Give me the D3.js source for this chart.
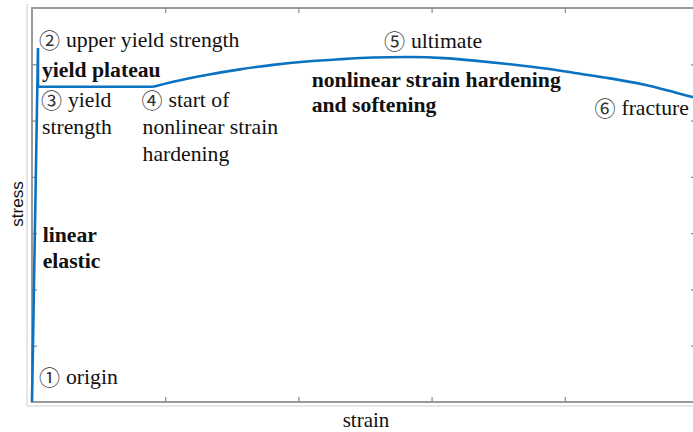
<!DOCTYPE html>
<html>
<head>
<meta charset="utf-8">
<script src="https://cdn.jsdelivr.net/npm/d3@7/dist/d3.min.js"></script>
<style>
  html, body { margin: 0; padding: 0; background: #fff; }
  svg { display: block; }
</style>
</head>
<body>
<svg id="chart" width="693" height="432"></svg>
<script>
// Schematic stress-strain curve (arbitrary units)
// Elastic rise, upper yield point, drop to the yield plateau
const elasticStrain = [0, 0.045, 0.045, 0.91];
const elasticStress = [0, 6.29, 5.60, 5.60];

// Nonlinear strain hardening and softening up to fracture
const hardeningStrain = [0.91, 1.06, 1.31, 1.56, 1.81, 2.06, 2.31, 2.56, 2.84, 3.09, 3.34, 3.59, 3.84, 4.09, 4.34, 4.59, 4.96, 5.0];
const hardeningStress = [5.60, 5.69, 5.81, 5.91, 5.99, 6.05, 6.09, 6.12, 6.13, 6.11, 6.06, 6.00, 5.93, 5.84, 5.75, 5.64, 5.42, 5.40];

// Tick positions (unlabelled)
const xTickValues = [1, 2, 3, 4];
const yTickValues = [1, 2, 3, 4, 5, 6];

// Annotation marker, text lines and anchor (strain, stress) of the first line
const labelMarker = ["\u2461", "", "\u2462", "\u2463", "\u2464", "", "\u2465", "", "\u2460"];
const labelText = [
  ["upper yield strength"],
  ["yield plateau"],
  ["yield", "strength"],
  ["start of", "nonlinear strain", "hardening"],
  ["ultimate"],
  ["nonlinear strain hardening", "and softening"],
  ["fracture"],
  ["linear", "elastic"],
  ["origin"]
];
const labelStrain = [0.06, 0.075, 0.075, 0.83, 2.65, 2.10, 4.23, 0.08, 0.06];
const labelStress = [6.31, 5.77, 5.24, 5.24, 6.29, 5.60, 5.10, 2.84, 0.32];
const labelBold = [false, true, false, false, false, true, false, true, false];

const svg = d3.select("#chart");
const x = d3.scaleLinear().domain([0, 5]).range([32, 698]);
const y = d3.scaleLinear().domain([0, 7]).range([402, 8]);

// Outer light frame
svg.append("path")
  .attr("d", `M27,4 V406 H693`)
  .attr("fill", "none")
  .attr("stroke", "#cfcfcf")
  .attr("stroke-width", 1);

// Plot box
svg.append("rect")
  .attr("x", x(0)).attr("y", y(7))
  .attr("width", x(5) - x(0)).attr("height", y(0) - y(7))
  .attr("fill", "none")
  .attr("stroke", "#9a9a9a")
  .attr("stroke-width", 2);

function styleAxis(g) {
  g.select(".domain").remove();
  g.selectAll(".tick line").attr("stroke", "#8a8a8a").attr("stroke-width", 1.2);
  g.selectAll(".tick text").remove();
}

svg.append("g").attr("transform", `translate(0,${y(0)})`)
  .call(d3.axisBottom(x).tickValues(xTickValues).tickSize(-5).tickFormat(""))
  .call(styleAxis);
svg.append("g").attr("transform", `translate(0,${y(7)})`)
  .call(d3.axisTop(x).tickValues(xTickValues).tickSize(-5).tickFormat(""))
  .call(styleAxis);
svg.append("g").attr("transform", `translate(${x(0)},0)`)
  .call(d3.axisLeft(y).tickValues(yTickValues).tickSize(-5).tickFormat(""))
  .call(styleAxis);
svg.append("g").attr("transform", `translate(${x(5)},0)`)
  .call(d3.axisRight(y).tickValues(yTickValues).tickSize(-7).tickFormat(""))
  .call(styleAxis);

// Curve
const lineBlue = "#0a72c0";
const linear = d3.line().x(d => x(d[0])).y(d => y(d[1]));
const smooth = d3.line().x(d => x(d[0])).y(d => y(d[1])).curve(d3.curveCatmullRom);

svg.append("path")
  .datum(d3.zip(elasticStrain, elasticStress))
  .attr("d", linear)
  .attr("fill", "none")
  .attr("stroke", lineBlue)
  .attr("stroke-width", 2.6)
  .attr("stroke-linejoin", "miter");

svg.append("path")
  .datum(d3.zip(hardeningStrain, hardeningStress))
  .attr("d", smooth)
  .attr("fill", "none")
  .attr("stroke", lineBlue)
  .attr("stroke-width", 2.6);

// Annotations
const serif = "Liberation Serif, DejaVu Serif, serif";
labelText.forEach((lines, i) => {
  const t = svg.append("text")
    .attr("x", x(labelStrain[i]))
    .attr("y", y(labelStress[i]))
    .style("font-family", serif)
    .style("font-size", "21.7px")
    .style("font-weight", labelBold[i] ? "bold" : "normal")
    .attr("fill", "#111");
  lines.forEach((s, j) => {
    if (j === 0 && labelMarker[i]) {
      t.append("tspan")
        .attr("x", x(labelStrain[i]) - 1)
        .attr("dy", 1)
        .style("font-family", "Noto Sans CJK JP, Noto Sans CJK SC, sans-serif")
        .style("font-size", "21px")
        .attr("fill", "#333")
        .text(labelMarker[i]);
      t.append("tspan").attr("dx", 6).attr("dy", -1).text(s);
    } else {
      t.append("tspan")
        .attr("x", x(labelStrain[i]))
        .attr("dy", j === 0 ? 0 : (labelBold[i] ? 25.5 : 27))
        .text(s);
    }
  });
});

// Axis titles
svg.append("text")
  .attr("x", 366).attr("y", 427)
  .attr("text-anchor", "middle")
  .style("font-family", serif)
  .style("font-size", "21px")
  .attr("fill", "#111")
  .text("strain");

svg.append("text")
  .attr("transform", "translate(23,204) rotate(-90)")
  .attr("text-anchor", "middle")
  .style("font-family", "Liberation Sans, Arial, sans-serif")
  .style("font-size", "17px")
  .attr("fill", "#111")
  .text("stress");
</script>
</body>
</html>
